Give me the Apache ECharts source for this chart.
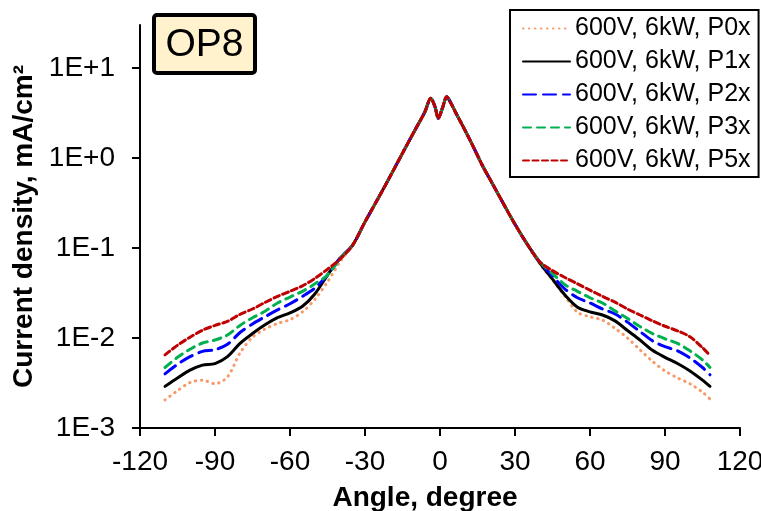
<!DOCTYPE html>
<html>
<head>
<meta charset="utf-8">
<script src="https://cdn.jsdelivr.net/npm/echarts@6/dist/echarts.min.js"></script>
<style>
  html, body { margin: 0; padding: 0; background: #fff; }
  #chart { width: 761px; height: 511px; }
</style>
</head>
<body>
<div id="chart"></div>
<script>
// angle, degree
const angles = [-110, -105, -100, -95, -90, -85, -80, -75, -70, -65, -60, -55, -50, -45, -40,
  -35, -30, -25, -20, -15, -10, -8, -6, -3.7, -2, -0.7, 1, 2.7, 4.5, 6, 9, 13, 17, 20, 25, 30, 35,
  40, 45, 50, 55, 60, 65, 70, 75, 80, 85, 90, 95, 100, 105, 108]

// shared central part, -35 .. 35
const center = [0.107, 0.195, 0.345, 0.62, 1.13, 2.04, 2.57, 3.27, 4.6, 3.7, 2.76, 3.6, 4.8, 4.0, 3.3, 2.3, 1.39, 0.82, 0.58, 0.324, 0.183, 0.109]

// current density, mA/cm2 (left tail -110..-40, right tail 40..108)
const p0Left = [0.00205, 0.0026, 0.0032, 0.0034, 0.0031, 0.0037, 0.0068, 0.0102, 0.0126, 0.0145, 0.016, 0.0195, 0.027, 0.042, 0.07]
const p0Right = [0.066, 0.044, 0.029, 0.0193, 0.0172, 0.0158, 0.0128, 0.0100, 0.0074, 0.0055, 0.0043, 0.0036, 0.0031, 0.0025, 0.0021]
const p1Left = [0.0029, 0.0036, 0.0044, 0.0050, 0.0052, 0.0062, 0.0087, 0.0112, 0.0140, 0.0168, 0.019, 0.0225, 0.031, 0.05, 0.077]
const p1Right = [0.068, 0.045, 0.030, 0.022, 0.0195, 0.0180, 0.0155, 0.0121, 0.0095, 0.0073, 0.0061, 0.0052, 0.0043, 0.0034, 0.0029]
const p2Left = [0.0040, 0.0051, 0.0062, 0.0071, 0.0074, 0.0085, 0.0115, 0.0143, 0.0172, 0.0205, 0.024, 0.029, 0.036, 0.05, 0.077]
const p2Right = [0.069, 0.049, 0.035, 0.028, 0.0245, 0.021, 0.0185, 0.0150, 0.0118, 0.0093, 0.0080, 0.0072, 0.0060, 0.0047, 0.0039]
const p3Left = [0.0047, 0.0061, 0.0075, 0.0088, 0.0095, 0.0108, 0.0138, 0.0168, 0.0198, 0.0245, 0.0285, 0.033, 0.040, 0.05, 0.076]
const p3Right = [0.07, 0.052, 0.039, 0.033, 0.028, 0.0245, 0.020, 0.0165, 0.0134, 0.0112, 0.0098, 0.0087, 0.0072, 0.0057, 0.0047]
const p5Left = [0.0065, 0.0083, 0.0102, 0.0122, 0.0138, 0.0153, 0.0183, 0.021, 0.0248, 0.029, 0.033, 0.038, 0.046, 0.058, 0.075]
const p5Right = [0.07, 0.056, 0.047, 0.040, 0.034, 0.029, 0.025, 0.021, 0.018, 0.0155, 0.0135, 0.0120, 0.0103, 0.0078, 0.0064]

const names = ['600V, 6kW, P0x', '600V, 6kW, P1x', '600V, 6kW, P2x', '600V, 6kW, P3x', '600V, 6kW, P5x']
const yTicks = [-3, -2, -1, 0, 1]

const font = "'Liberation Sans', Arial, sans-serif"

function toPoints (left, right) {
  const vals = left.concat(center, right)
  return angles.map((a, i) => [a, Math.log10(vals[i])])
}

function line (name, left, right, color, type, width) {
  return {
    name: name,
    type: 'line',
    symbol: 'none',
    smooth: 0.3,
    color: color,
    lineStyle: { color: color, width: width, type: type, cap: 'round' },
    data: toPoints(left, right)
  }
}

const myChart = echarts.init(document.getElementById('chart'))
const option = {
  animation: false,
  textStyle: { fontFamily: font },
  grid: { left: 140, right: 21, top: 25, bottom: 83, outerBoundsMode: 'none' },
  legend: {
    orient: 'vertical',
    left: 510,
    top: 10,
    padding: [6, 8, 4, 12],
    borderColor: '#000',
    borderWidth: 2,
    itemWidth: 47,
    itemHeight: 14,
    itemGap: 8,
    itemStyle: { opacity: 0 },
    textStyle: { fontSize: 25, color: '#000', fontFamily: font },
    data: names
  },
  graphic: [
    {
      type: 'group',
      left: 152,
      top: 13,
      children: [
        {
          type: 'rect',
          shape: { x: 0, y: 0, width: 101, height: 58, r: 3 },
          style: { fill: '#FFF2CC', stroke: '#000', lineWidth: 4 }
        },
        {
          type: 'text',
          x: 50.5,
          y: 30,
          style: { text: 'OP8', fontSize: 39, fontFamily: font, fill: '#000', align: 'center', verticalAlign: 'middle' }
        }
      ]
    }
  ],
  xAxis: {
    type: 'value',
    min: -120,
    max: 120,
    interval: 30,
    name: 'Angle, degree',
    nameLocation: 'middle',
    nameGap: 56,
    nameTextStyle: { fontSize: 28, fontWeight: 'bold', color: '#000', fontFamily: font, padding: [0, 30, 0, 0] },
    axisLine: { onZero: false, lineStyle: { color: '#000', width: 2 } },
    axisTick: { length: 8, lineStyle: { color: '#000', width: 2 } },
    axisLabel: { fontSize: 28, color: '#000', margin: 20, fontFamily: font },
    splitLine: { show: false }
  },
  yAxis: {
    type: 'value',
    min: -3,
    max: Math.log10(30),
    name: 'Current density, mA/cm²',
    nameLocation: 'middle',
    nameGap: 96,
    nameTextStyle: { fontSize: 28, fontWeight: 'bold', color: '#000', fontFamily: font },
    axisLine: { onZero: false, lineStyle: { color: '#000', width: 2 } },
    axisTick: { length: 8, customValues: yTicks, lineStyle: { color: '#000', width: 2 } },
    axisLabel: {
      fontSize: 28,
      color: '#000',
      margin: 25,
      fontFamily: font,
      customValues: yTicks,
      formatter: v => '1E' + (v >= 0 ? '+' : '') + Math.round(v)
    },
    splitLine: { show: false }
  },
  series: [
    line(names[0], p0Left, p0Right, '#F79A6A', [0.5, 5.5], 3),
    line(names[1], p1Left, p1Right, '#000000', 'solid', 3),
    line(names[2], p2Left, p2Right, '#0000FF', [13, 7], 3),
    line(names[3], p3Left, p3Right, '#00B050', [8, 6], 3),
    line(names[4], p5Left, p5Right, '#C00000', [6, 3.5], 3)
  ]
}
myChart.setOption(option)
</script>
</body>
</html>
